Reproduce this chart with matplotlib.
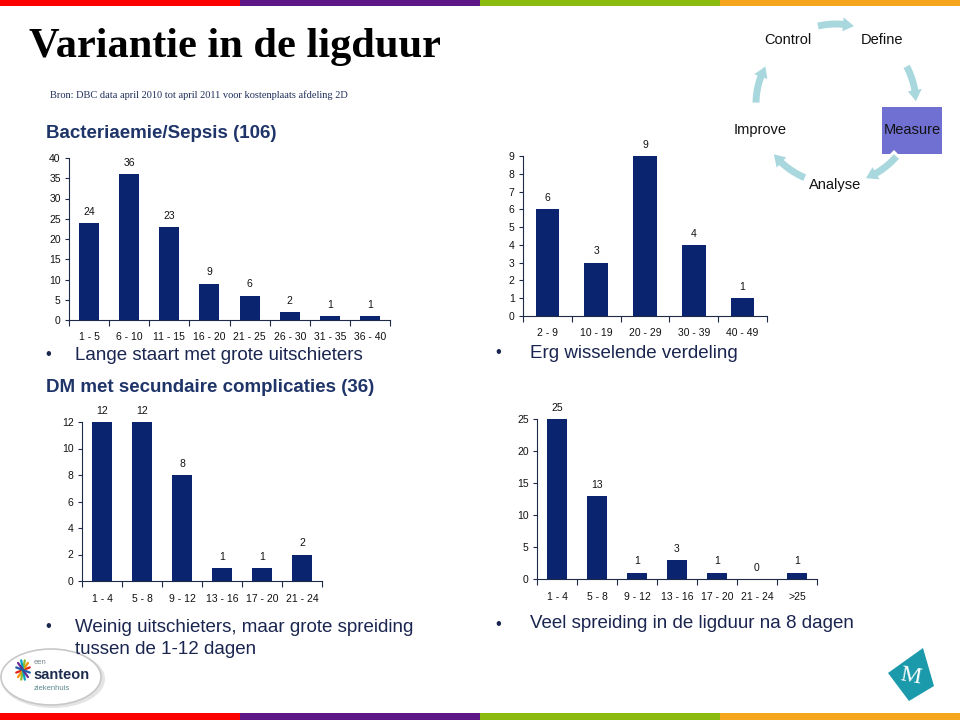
import numpy as np
import matplotlib
matplotlib.use("Agg")
import matplotlib.pyplot as plt
from matplotlib.patches import Rectangle, Ellipse, Polygon

plt.rcParams['font.family'] = ['Liberation Sans', 'DejaVu Sans']

# Data
sepsis_labels = ['1 - 5', '6 - 10', '11 - 15', '16 - 20', '21 - 25', '26 - 30', '31 - 35', '36 - 40']
sepsis_counts = [24, 36, 23, 9, 6, 2, 1, 1]
sepsis_yticks = [0, 5, 10, 15, 20, 25, 30, 35, 40]

wide_labels = ['2 - 9', '10 - 19', '20 - 29', '30 - 39', '40 - 49']
wide_counts = [6, 3, 9, 4, 1]
wide_yticks = [0, 1, 2, 3, 4, 5, 6, 7, 8, 9]

dm_labels = ['1 - 4', '5 - 8', '9 - 12', '13 - 16', '17 - 20', '21 - 24']
dm_counts = [12, 12, 8, 1, 1, 2]
dm_yticks = [0, 2, 4, 6, 8, 10, 12]

late_labels = ['1 - 4', '5 - 8', '9 - 12', '13 - 16', '17 - 20', '21 - 24', '>25']
late_counts = [25, 13, 1, 3, 1, 0, 1]
late_yticks = [0, 5, 10, 15, 20, 25]

cycle_steps = ['Control', 'Define', 'Measure', 'Analyse', 'Improve']

BAR = '#0A2470'
AXIS = '#1F2A48'
NAVY_TXT = '#1A2550'
TITLE_TXT = '#1F3468'

W, H = 960, 720
fig = plt.figure(figsize=(9.6, 7.2), dpi=100)
bg = fig.add_axes([0, 0, 1, 1])
bg.set_xlim(0, W)
bg.set_ylim(H, 0)
bg.axis('off')

# coloured strips top and bottom
strip_cols = ['#FF0000', '#5E1786', '#8BBB0F', '#F5A61D']
for i, c in enumerate(strip_cols):
    bg.add_patch(Rectangle((i * 240, 0), 240, 6, color=c, lw=0))
    bg.add_patch(Rectangle((i * 240, 713), 240, 7, color=c, lw=0))

bg.text(29, 57, 'Variantie in de ligduur', family='Liberation Serif', fontweight='bold',
        fontsize=30.5, va='baseline', color='black')
bg.text(50, 98, 'Bron: DBC data april 2010 tot april 2011 voor kostenplaats afdeling 2D',
        family='Liberation Serif', fontsize=7.5, va='baseline', color='#1F2D5A')


def px_axes(x0, x1, y_bottom, y_top):
    return fig.add_axes([x0 / W, 1 - y_bottom / H, (x1 - x0) / W, (y_bottom - y_top) / H])


def bar_chart(ax, labels, counts, yticks, width=0.5):
    x = np.arange(len(labels))
    ax.bar(x, counts, width=width, color=BAR)
    for xi, v in zip(x, counts):
        ax.annotate(str(v), (xi, v), xytext=(0, 4.5), textcoords='offset points',
                    ha='center', va='bottom', fontsize=7.5, color='#111111')
    ax.set_xlim(-0.5, len(labels) - 0.5)
    ax.set_ylim(0, yticks[-1])
    ax.set_yticks(yticks)
    ax.set_xticks(np.arange(len(labels) + 1) - 0.5)
    ax.set_xticklabels([])
    ax.set_xticks(x, minor=True)
    ax.set_xticklabels(labels, minor=True)
    ax.tick_params(axis='x', which='major', length=4, width=0.8, color=AXIS)
    ax.tick_params(axis='x', which='minor', length=0, pad=9, labelsize=7.5, labelcolor='#111111')
    ax.tick_params(axis='y', length=3, width=0.8, color=AXIS, labelsize=7.5, pad=3,
                   labelcolor='#111111')
    for s in ('top', 'right'):
        ax.spines[s].set_visible(False)
    for s in ('left', 'bottom'):
        ax.spines[s].set_color(AXIS)
        ax.spines[s].set_linewidth(0.8)
    ax.patch.set_alpha(0)


bar_chart(px_axes(69, 390, 320, 158), sepsis_labels, sepsis_counts, sepsis_yticks)
bar_chart(px_axes(523, 767, 316, 156), wide_labels, wide_counts, wide_yticks, width=0.48)
bar_chart(px_axes(82, 322, 581, 422), dm_labels, dm_counts, dm_yticks, width=0.48)
bar_chart(px_axes(537, 817, 579, 419), late_labels, late_counts, late_yticks)

# chart titles and bullets
bg.text(46, 133, 'Bacteriaemie/Sepsis (106)', fontsize=13.5, fontweight='bold',
        color=TITLE_TXT, va='center')
bg.text(46, 388, 'DM met secundaire complicaties (36)', fontsize=13.5, fontweight='bold',
        color=TITLE_TXT, va='center')

bullets = [
    (48, 75, 355, 'Lange staart met grote uitschieters'),
    (498, 530, 353, 'Erg wisselende verdeling'),
    (48, 75, 627, 'Weinig uitschieters, maar grote spreiding'),
    (498, 530, 624, 'Veel spreiding in de ligduur na 8 dagen'),
]
for bx, tx, ty, txt in bullets:
    bg.text(bx, ty, '•', fontsize=12, color=NAVY_TXT, va='center', ha='center')
    bg.text(tx, ty, txt, fontsize=13.5, color=NAVY_TXT, va='center')
bg.text(75, 649, 'tussen de 1-12 dagen', fontsize=13.5, color=NAVY_TXT, va='center')

# DMAIC cycle
cx, cy, R = 836, 104, 80
ring_col = '#A8D8DE'
arcs = [(103, 77), (28, 2), (-41, -68), (-113, -141), (179, 152)]


def ring_pt(a, r=R):
    t = np.radians(a)
    return cx + r * np.cos(t), cy - r * np.sin(t)


for a0, a1 in arcs:
    sgn = np.sign(a1 - a0)
    t = np.linspace(a0, a1 - sgn * 6, 30)
    xs, ys = ring_pt(t)
    bg.plot(xs, ys, color=ring_col, lw=5, solid_capstyle='butt')
    tip = ring_pt(a1)
    b1 = ring_pt(a1 - sgn * 8, R + 7)
    b2 = ring_pt(a1 - sgn * 8, R - 7)
    bg.add_patch(Polygon([tip, b1, b2], closed=True, color=ring_col, lw=0))

bg.add_patch(Polygon([(882, 107), (942, 107), (942, 154), (898, 154), (894, 150), (890, 154), (882, 154)],
                     closed=True, color='#7070D2', lw=0))
step_pos = [(788, 40), (882, 40), (912, 130), (835, 185), (760, 130)]
for name, (sx, sy) in zip(cycle_steps, step_pos):
    bg.text(sx, sy, name, fontsize=10.5, ha='center', va='center', color='#111111')

# santeon logo (bottom left)
bg.add_patch(Ellipse((53, 679), 104, 58, facecolor='#E4E4E4', edgecolor='none'))
bg.add_patch(Ellipse((51, 677), 100, 56, facecolor='white', edgecolor='#C8C8C8', lw=1.2))
icon_cols = ['#E2231A', '#F39200', '#8DBB25', '#00A0C6', '#6A2C8E', '#1E5AA8']
for k, c in enumerate(icon_cols):
    ang = np.radians(30 * k + 15)
    x0, y0 = 23 + 7 * np.cos(ang), 670 - 10 * np.sin(ang)
    x1, y1 = 23 - 7 * np.cos(ang), 670 + 10 * np.sin(ang)
    bg.plot([x0, x1], [y0, y1], color=c, lw=1.6, solid_capstyle='round')
bg.text(34, 663, 'een', fontsize=5.5, color='#7A8A8C', va='center')
bg.text(33, 675, 'santeon', fontsize=10.5, fontweight='bold', color='#1E2D4F', va='center')
bg.text(34, 688, 'ziekenhuis', fontsize=5.5, color='#5E8A8E', va='center')

# M logo (bottom right)
bg.add_patch(Polygon([(923, 648), (888, 673), (909, 701), (934, 686)], closed=True,
                     color='#1A9AAA', lw=0))
bg.text(911, 676, 'M', family='Liberation Serif', fontsize=17, color='white',
        ha='center', va='center', rotation=-10)

fig.savefig('out.png', dpi=100)
